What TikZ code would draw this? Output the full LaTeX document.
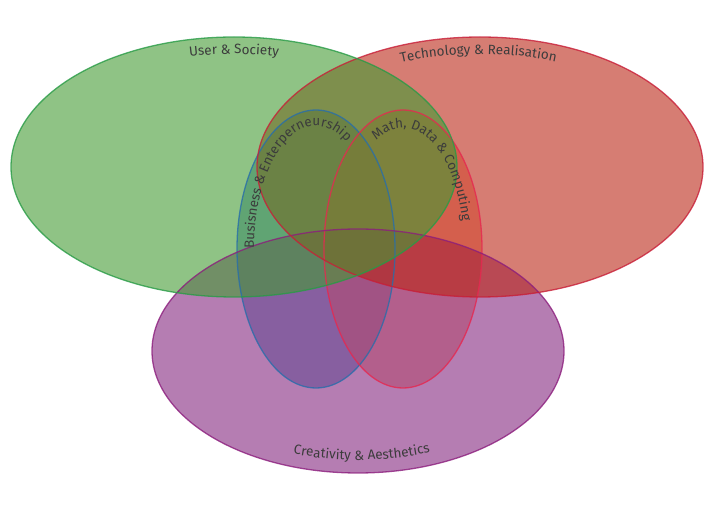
\documentclass[tikz,border=0pt]{standalone}
\usepackage{fontspec}
\setmainfont{Fira Sans}
\usetikzlibrary{decorations.text}

\definecolor{usergreen}{RGB}{68,155,52}
\definecolor{userline}{RGB}{40,155,70}
\definecolor{techred}{RGB}{187,38,22}
\definecolor{techline}{RGB}{200,30,55}
\definecolor{creapurple}{RGB}{132,38,127}
\definecolor{crealine}{RGB}{140,30,125}
\definecolor{bizblue}{RGB}{63,130,180}
\definecolor{bizline}{RGB}{40,110,170}
\definecolor{mathpink}{RGB}{250,130,97}
\definecolor{mathline}{RGB}{230,40,80}
\definecolor{labelgray}{RGB}{60,60,60}

\newcommand{\lblfont}{\fontsize{13.5}{16}\selectfont}

\begin{document}
\begin{tikzpicture}[x=1pt,y=1pt,
    setfill/.style={fill opacity=0.6},
    setline/.style={draw opacity=0.8, line width=1.3pt},
    arclabel/.style={decorate, decoration={text along path, text color=labelgray}}]

    \useasboundingbox (0,0) rectangle (716,509);

    % centres of the five sets
    \coordinate (user) at (234,342);
    \coordinate (tech) at (480,342);
    \coordinate (crea) at (358,158);
    \coordinate (biz) at (316,260);
    \coordinate (math) at (403,260);

    % fills, the two narrow sets first
    \fill[setfill, bizblue] (biz) ellipse [x radius=79pt, y radius=139pt];
    \fill[setfill, mathpink] (math) ellipse [x radius=79pt, y radius=139pt];
    \fill[setfill, creapurple] (crea) ellipse [x radius=206pt, y radius=122pt];
    \fill[setfill, techred] (tech) ellipse [x radius=223pt, y radius=130pt];
    \fill[setfill, usergreen] (user) ellipse [x radius=223pt, y radius=130pt];

    % outlines
    \draw[setline, bizline] (biz) ellipse [x radius=79pt, y radius=139pt];
    \draw[setline, mathline] (math) ellipse [x radius=79pt, y radius=139pt];
    \draw[setline, crealine] (crea) ellipse [x radius=206pt, y radius=122pt];
    \draw[setline, techline] (tech) ellipse [x radius=223pt, y radius=130pt];
    \draw[setline, userline] (user) ellipse [x radius=223pt, y radius=130pt];

    % labels along the edges
    \path[arclabel, shift={(user)}, decoration={text={|\lblfont|User {\&} Society}, text align=center}]
        (120:206pt and 113pt) arc [start angle=120, end angle=60, x radius=206pt, y radius=113pt];
    \path[arclabel, shift={(tech)}, decoration={text={|\lblfont|Technology {\&} Realisation}, text align=center}]
        (121:206pt and 113pt) arc [start angle=121, end angle=60, x radius=206pt, y radius=113pt];
    \path[arclabel, shift={(crea)}, decoration={text={|\lblfont|Creativity {\&} Aesthetics}, text align=center}]
        (245:194pt and 109pt) arc [start angle=245, end angle=297.4, x radius=194pt, y radius=109pt];
    \path[arclabel, shift={(biz)}, decoration={text={|\lblfont|Busisness {\&} Enterperneurship}}]
        (180:62pt and 123pt) arc [start angle=180, end angle=30, x radius=62pt, y radius=123pt];
    \path[arclabel, shift={(math)}, decoration={text={|\lblfont|Math, Data {\&} Computing}}]
        (116:61pt and 121pt) arc [start angle=116, end angle=-40, x radius=61pt, y radius=121pt];

\end{tikzpicture}
\end{document}
